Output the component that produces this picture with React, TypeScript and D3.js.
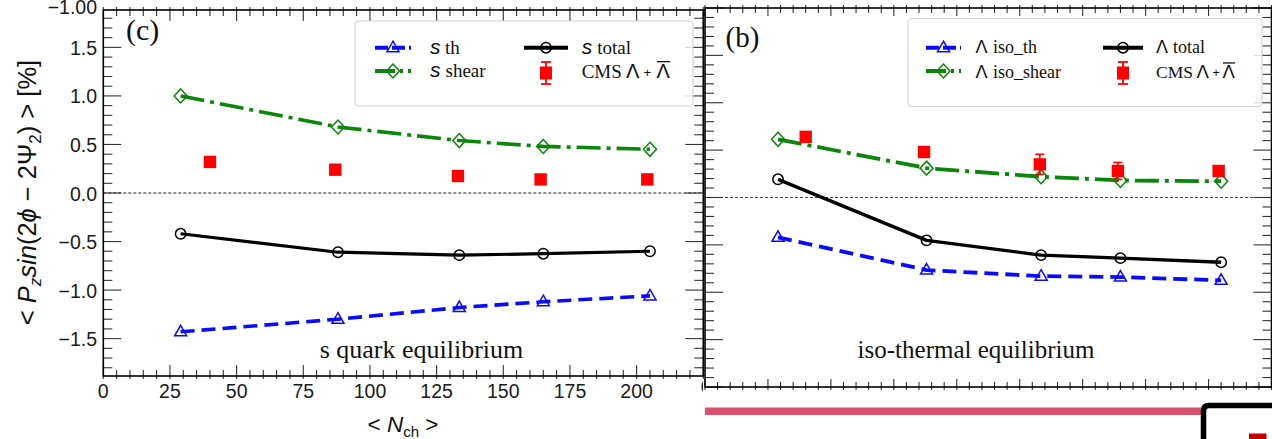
import React from "react";
import * as d3 from "d3";

// ---------------- data ----------------
const nchModel = [29, 88, 133.5, 165, 205];
const nchCms = [40, 87, 133, 164, 204];
// panel (c): s quark equilibrium
const sTh = [-1.43, -1.3, -1.18, -1.12, -1.06];
const sShear = [1.0, 0.68, 0.54, 0.48, 0.45];
const sTotal = [-0.42, -0.61, -0.64, -0.625, -0.6];
// CMS Lambda + anti-Lambda
const cmsVal = [0.32, 0.24, 0.175, 0.14, 0.14];
const cmsErr = [0.015, 0.02, 0.053, 0.045, 0.02];
// panel (b): iso-thermal equilibrium
const isoTh = [-0.21, -0.383, -0.415, -0.42, -0.437];
const isoShear = [0.307, 0.155, 0.11, 0.09, 0.086];
const lamTotal = [0.096, -0.226, -0.304, -0.32, -0.342];

const xTickLabels = [0, 25, 50, 75, 100, 125, 150, 175, 200];
const yTickLabelsC = [1.5, 1.0, 0.5, 0.0, -0.5, -1.0, -1.5];

const BLUE = "#0a0aff";
const GREEN = "#0a860a";
const RED = "#ff0000";
const SANS = "'Liberation Sans', Arial, Helvetica, sans-serif";
const SERIF = "'Liberation Serif', 'Times New Roman', serif";

type Kind = "tri" | "dia" | "circ";

function Marker({ kind, cx, cy, color }: { kind: Kind; cx: number; cy: number; color: string }) {
  if (kind === "tri") {
    const p = `M${cx},${cy - 6.5}L${cx + 6},${cy + 4}L${cx - 6},${cy + 4}Z`;
    return <path d={p} fill="none" stroke={color} strokeWidth={1.5} />;
  }
  if (kind === "dia") {
    const p = `M${cx},${cy - 7}L${cx + 6.5},${cy}L${cx},${cy + 7}L${cx - 6.5},${cy}Z`;
    return <path d={p} fill="none" stroke={color} strokeWidth={1.5} />;
  }
  return <circle cx={cx} cy={cy} r={5.2} fill="none" stroke={color} strokeWidth={1.5} />;
}

function Series({ xs, ys, xv, yv, color, dash, width, kind }: any) {
  const line = d3
    .line<number>()
    .x((_, i) => xs(xv[i]))
    .y((d) => ys(d));
  return (
    <g>
      <path d={line(yv) || ""} fill="none" stroke={color} strokeWidth={width} strokeDasharray={dash} strokeLinejoin="round" />
      {yv.map((v: number, i: number) => (
        <Marker key={i} kind={kind} cx={xs(xv[i])} cy={ys(v)} color={color} />
      ))}
    </g>
  );
}

function Cms({ xs, ys }: any) {
  return (
    <g>
      {cmsVal.map((v, i) => {
        const cx = xs(nchCms[i]);
        const y1 = ys(v - cmsErr[i]);
        const y2 = ys(v + cmsErr[i]);
        return (
          <g key={i}>
            <line x1={cx} x2={cx} y1={y1} y2={y2} stroke={RED} strokeWidth={1.6} />
            <line x1={cx - 4.5} x2={cx + 4.5} y1={y1} y2={y1} stroke={RED} strokeWidth={1.6} />
            <line x1={cx - 4.5} x2={cx + 4.5} y1={y2} y2={y2} stroke={RED} strokeWidth={1.6} />
            <rect x={cx - 6.2} y={ys(v) - 6.2} width={12.4} height={12.4} fill={RED} />
          </g>
        );
      })}
    </g>
  );
}

function Frame({ xs, ys, xMinor, xMajorEvery, yMinor, yIsMajor, yMaj, yMin, xMaj, xMin }: any) {
  const [x0, x1] = xs.range();
  const [yb, yt] = ys.range();
  const els: any[] = [];
  yMinor.forEach((v: number, i: number) => {
    const y = ys(v);
    const L = yIsMajor(v) ? yMaj : yMin;
    els.push(<line key={"l" + i} x1={x0} x2={x0 + L} y1={y} y2={y} stroke="#333" strokeWidth={1.1} />);
    els.push(<line key={"r" + i} x1={x1} x2={x1 - L} y1={y} y2={y} stroke="#333" strokeWidth={1.1} />);
  });
  xMinor.forEach((v: number, i: number) => {
    const x = xs(v);
    const maj = Math.abs(v % xMajorEvery) < 1e-6;
    const L = maj ? xMaj : xMin;
    els.push(<line key={"b" + i} x1={x} x2={x} y1={yb - L} y2={yb + 3} stroke="#333" strokeWidth={1.1} />);
    els.push(<line key={"t" + i} x1={x} x2={x} y1={yt - 3} y2={yt + L} stroke="#333" strokeWidth={1.1} />);
  });
  return (
    <g>
      {els}
      <rect x={x0} y={yt} width={x1 - x0} height={yb - yt} fill="none" stroke="#000" strokeWidth={1.6} />
    </g>
  );
}

function LegendLine({ x1, x2, y, color, dash, kind }: any) {
  return (
    <g>
      <line x1={x1} x2={x2} y1={y} y2={y} stroke={color} strokeWidth={4} strokeDasharray={dash} />
      <Marker kind={kind} cx={(x1 + x2) / 2} cy={y} color={color} />
    </g>
  );
}

function LegendCms({ cx, cy }: any) {
  return (
    <g>
      <line x1={cx} x2={cx} y1={cy - 11} y2={cy + 11} stroke={RED} strokeWidth={1.8} />
      <line x1={cx - 5} x2={cx + 5} y1={cy - 11} y2={cy - 11} stroke={RED} strokeWidth={1.8} />
      <line x1={cx - 5} x2={cx + 5} y1={cy + 11} y2={cy + 11} stroke={RED} strokeWidth={1.8} />
      <rect x={cx - 6} y={cy - 6.5} width={12} height={13} fill={RED} />
    </g>
  );
}

function CmsText({ x, y, size, lam, plus, lam2 }: any) {
  return (
    <g>
      <text x={x} y={y} fontFamily={SERIF} fontSize={size} fill="#111">CMS</text>
      <text x={lam} y={y} fontFamily={SANS} fontSize={size + 1} fill="#111">Λ</text>
      <text x={plus} y={y - 1} fontFamily={SANS} fontSize={size * 0.7} fill="#111">+</text>
      <text x={lam2} y={y} fontFamily={SANS} fontSize={size + 1} fill="#111">Λ</text>
      <line x1={lam2 + 0.5} x2={lam2 + size * 0.72} y1={y - size * 0.86} y2={y - size * 0.86} stroke="#111" strokeWidth={1.3} />
    </g>
  );
}

export default function App() {
  // panel (c)
  const xc = d3.scaleLinear().domain([0, 225]).range([103.3, 703.3]);
  const yc = d3.scaleLinear().domain([-1.885, 1.885]).range([376, 10]);
  // panel (b)
  const xb = d3.scaleLinear().domain([0, 225]).range([705, 1271.5]);
  const yb = d3.scaleLinear().domain([-1, 1]).range([387, 8]);

  const xMinor = d3.range(0, 226, 5);
  const yMinorC = d3.range(-18, 19).map((i) => i / 10);
  const yMinorB = d3.range(-20, 21).map((i) => i * 0.05);

  const blueDash = "14,7";
  const greenDash = "24,6,4,6";

  const fmt = (v: number) => (v < 0 ? "\u2212" : "") + Math.abs(v).toFixed(1);

  return (
    <svg width={1272} height={439} style={{ position: "absolute", left: 0, top: 0, background: "#fff" }}>
      <defs>
        <clipPath id="leftOnly">
          <rect x={0} y={0} width={703} height={439} />
        </clipPath>
      </defs>
      <rect x={0} y={0} width={1272} height={439} fill="#fff" />

      {/* ================= panel (c) ================= */}
      <line x1={xc(0)} x2={xc(225)} y1={yc(0)} y2={yc(0)} stroke="#222" strokeWidth={1} strokeDasharray="3,2" />
      <Series xs={xc} ys={yc} xv={nchModel} yv={sShear} color={GREEN} dash={greenDash} width={3.6} kind="dia" />
      <Series xs={xc} ys={yc} xv={nchModel} yv={sTotal} color="#000" width={3.2} kind="circ" />
      <Series xs={xc} ys={yc} xv={nchModel} yv={sTh} color={BLUE} dash={blueDash} width={3.6} kind="tri" />
      <Cms xs={xc} ys={yc} />
      <Frame xs={xc} ys={yc} xMinor={xMinor} xMajorEvery={25} yMinor={yMinorC}
        yIsMajor={(v: number) => Math.abs(v * 2 - Math.round(v * 2)) < 1e-6}
        yMaj={18} yMin={9} xMaj={11} xMin={6} />

      {/* y tick labels */}
      {yTickLabelsC.map((v) => (
        <text key={v} x={97} y={yc(v) + 7.5} textAnchor="end" fontFamily={SANS} fontSize={19.5} fill="#1a1a1a">{fmt(v)}</text>
      ))}
      <text x={97} y={13.5} textAnchor="end" fontFamily={SANS} fontSize={19.5} fill="#1a1a1a">{"\u22121.00"}</text>
      {/* x tick labels */}
      {xTickLabels.map((v) => (
        <text key={v} x={xc(v)} y={398} textAnchor="middle" fontFamily={SANS} fontSize={19.5} fill="#1a1a1a">{v}</text>
      ))}
      <text x={706} y={393} textAnchor="middle" fontFamily={SANS} fontSize={19} fill="#1a1a1a" clipPath="url(#leftOnly)">0</text>

      {/* axis titles */}
      <text x={403} y={432} textAnchor="middle" fontFamily={SANS} fontSize={22.5} fill="#111">
        {"< "}<tspan fontStyle="italic">N</tspan><tspan fontSize={15} dy={5}>ch</tspan><tspan dy={-5}>{" >"}</tspan>
      </text>
      <text transform="translate(36,192.5) rotate(-90)" textAnchor="middle" fontFamily={SANS} fontSize={25.5} fill="#111">
        {"< "}<tspan fontStyle="italic">P</tspan><tspan fontStyle="italic" fontSize={17} dy={5}>z</tspan>
        <tspan fontStyle="italic" dy={-5}>sin</tspan>(2<tspan fontStyle="italic">ϕ</tspan>{" \u2212 2Ψ"}
        <tspan fontSize={17} dy={5}>2</tspan><tspan dy={-5}>{") >  [%]"}</tspan>
      </text>

      <text x={126} y={39.5} fontFamily={SERIF} fontSize={30} fill="#111">(c)</text>
      <text x={421.5} y={358} textAnchor="middle" fontFamily={SERIF} fontSize={26} fill="#111">s quark equilibrium</text>

      {/* legend (c) */}
      <rect x={355} y={21} width={338} height={85} rx={4} fill="#fff" fillOpacity={0.82} stroke="#d4d4d4" strokeWidth={1.2} />
      <LegendLine x1={375} x2={411} y={47.7} color={BLUE} dash="13,4" kind="tri" />
      <LegendLine x1={375} x2={411} y={71} color={GREEN} dash="20,5,3,5" kind="dia" />
      <LegendLine x1={524} x2={568} y={47.7} color="#000" kind="circ" />
      <LegendCms cx={546} cy={73} />
      <text x={430} y={53.5} fontFamily={SANS} fontStyle="italic" fontSize={21} fill="#111">s</text>
      <text x={445} y={53.5} fontFamily={SERIF} fontSize={19} fill="#111">th</text>
      <text x={430} y={77.3} fontFamily={SANS} fontStyle="italic" fontSize={21} fill="#111">s</text>
      <text x={445.5} y={77.3} fontFamily={SERIF} fontSize={19} fill="#111">shear</text>
      <text x={581.7} y={53.5} fontFamily={SANS} fontStyle="italic" fontSize={21} fill="#111">s</text>
      <text x={597.3} y={53.5} fontFamily={SERIF} fontSize={19} fill="#111">total</text>
      <CmsText x={581.7} y={78} size={19} lam={626} plus={643.5} lam2={656.5} />

      {/* ================= panel (b) ================= */}
      <line x1={xb(0)} x2={xb(225)} y1={yb(0)} y2={yb(0)} stroke="#444" strokeWidth={1} strokeDasharray="3,2" />
      <Series xs={xb} ys={yb} xv={nchModel} yv={isoShear} color={GREEN} dash={greenDash} width={3.8} kind="dia" />
      <Series xs={xb} ys={yb} xv={nchModel} yv={lamTotal} color="#000" width={3.4} kind="circ" />
      <Series xs={xb} ys={yb} xv={nchModel} yv={isoTh} color={BLUE} dash={blueDash} width={3.8} kind="tri" />
      <Cms xs={xb} ys={yb} />
      <Frame xs={xb} ys={yb} xMinor={xMinor} xMajorEvery={25} yMinor={yMinorB}
        yIsMajor={(v: number) => Math.abs(v * 4 - Math.round(v * 4)) < 1e-6}
        yMaj={18} yMin={9} xMaj={8} xMin={5} />

      <text x={725.5} y={46.5} fontFamily={SERIF} fontSize={29} fill="#111">(b)</text>
      <text x={976} y={358} textAnchor="middle" fontFamily={SERIF} fontSize={25} fill="#111">iso-thermal equilibrium</text>

      {/* legend (b) */}
      <rect x={908} y={18.5} width={354} height={88} rx={4} fill="#fff" fillOpacity={0.82} stroke="#d4d4d4" strokeWidth={1.2} />
      <LegendLine x1={926} x2={961} y={47.7} color={BLUE} dash="13,4" kind="tri" />
      <LegendLine x1={926} x2={961} y={71} color={GREEN} dash="20,5,3,5" kind="dia" />
      <LegendLine x1={1103} x2={1143} y={47.7} color="#000" kind="circ" />
      <LegendCms cx={1123} cy={73} />
      <text x={975.4} y={53.3} fontFamily={SANS} fontSize={18} fill="#111">Λ</text>
      <text x={993} y={53.3} fontFamily={SERIF} fontSize={18} fill="#111">iso_th</text>
      <text x={975.4} y={77.5} fontFamily={SANS} fontSize={18} fill="#111">Λ</text>
      <text x={993} y={77.5} fontFamily={SERIF} fontSize={18} fill="#111">iso_shear</text>
      <text x={1156} y={53.3} fontFamily={SANS} fontSize={18} fill="#111">Λ</text>
      <text x={1173} y={53.3} fontFamily={SERIF} fontSize={18} fill="#111">total</text>
      <CmsText x={1156} y={78} size={17.5} lam={1196.5} plus={1212.5} lam2={1222.5} />

      {/* ================= page fragments below ================= */}
      <rect x={705} y={407.5} width={496} height={7.5} fill="#d9506f" />
      <path d="M1203.5,439 L1203.5,411 Q1203.5,405.5 1209,405.5 L1272,405.5" fill="none" stroke="#000" strokeWidth={5.5} />
      <rect x={1249} y={433.5} width={17.5} height={6} fill="#c40000" />
    </svg>
  );
}
